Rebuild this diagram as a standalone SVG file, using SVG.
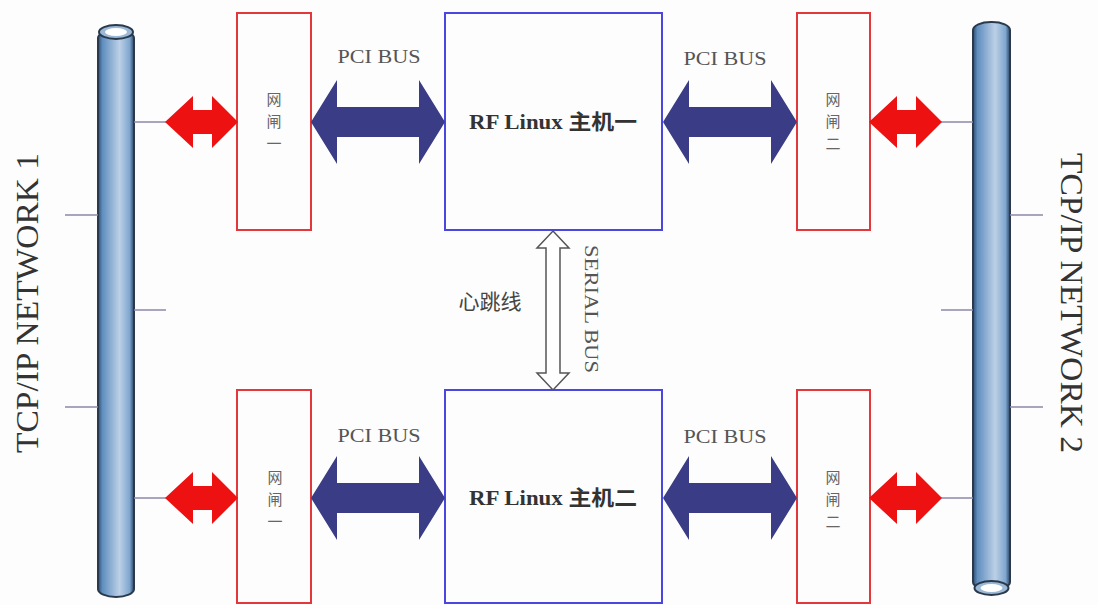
<svg xmlns="http://www.w3.org/2000/svg" width="1098" height="605" viewBox="0 0 1098 605">
<defs>
<linearGradient id="cyl" x1="0" y1="0" x2="1" y2="0">
<stop offset="0" stop-color="#2d4c70"/>
<stop offset="0.12" stop-color="#5f8ebf"/>
<stop offset="0.6" stop-color="#bcd0e6"/>
<stop offset="0.88" stop-color="#7ea6cf"/>
<stop offset="1" stop-color="#2d4563"/>
</linearGradient>
<polygon id="red" points="0,0 28,-26 28,-12 47,-12 47,-26 73,0 47,26 47,12 28,12 28,26" fill="#ee1111"/>
<polygon id="navy" points="0,0 26,-42 26,-15 108,-15 108,-42 134,0 108,42 108,15 26,15 26,42" fill="#3a3d85"/>
</defs>
<style>
.gw{fill:none;stroke:#e2383c;stroke-width:2}
.host{fill:none;stroke:#4a46e0;stroke-width:2}
.tick{stroke:#8a88a8;stroke-width:1.5}
.bus{font-family:"Liberation Serif",serif;font-size:19px;fill:#555;text-anchor:middle}
.gt{font-family:"Noto Sans CJK SC",sans-serif;font-size:15px;fill:#666;text-anchor:middle}
.ht{font-family:"Liberation Serif","Noto Sans CJK SC",serif;font-size:21px;font-weight:bold;fill:#333;text-anchor:middle}
.net{font-family:"Liberation Serif",serif;font-size:32px;fill:#333;text-anchor:middle}
</style>
<rect width="1098" height="605" fill="#fdfdfd"/>

<g id="network1">
<rect x="98" y="30" width="36" height="567" rx="18" ry="8" fill="url(#cyl)" stroke="#2a3a4c" stroke-width="2"/>
<ellipse cx="116" cy="32" rx="17" ry="7" fill="#9bb8d6" stroke="#2a3a4c" stroke-width="2"/>
<ellipse cx="116" cy="32" rx="11" ry="4" fill="#ffffff"/>
<text class="net" transform="translate(38,303) rotate(-90)" textLength="300" lengthAdjust="spacingAndGlyphs">TCP/IP NETWORK 1</text>
</g>
<g id="network2">
<rect x="973" y="22" width="37" height="568" rx="18" ry="8" fill="url(#cyl)" stroke="#2a3a4c" stroke-width="2"/>
<ellipse cx="991.5" cy="588" rx="17" ry="7" fill="#9bb8d6" stroke="#2a3a4c" stroke-width="2"/>
<ellipse cx="991.5" cy="588" rx="11" ry="4" fill="#ffffff"/>
<text class="net" transform="translate(1061,303) rotate(90)" textLength="300" lengthAdjust="spacingAndGlyphs">TCP/IP NETWORK 2</text>
</g>

<g id="gw1-top">
<rect class="gw" x="237" y="13" width="74" height="217"/>
<text class="gt" x="274" y="105">网</text>
<text class="gt" x="274" y="127">闸</text>
<text class="gt" x="274" y="149">一</text>
</g>
<g id="gw1-bottom">
<rect class="gw" x="237" y="390" width="74" height="213"/>
<text class="gt" x="275" y="483">网</text>
<text class="gt" x="275" y="505">闸</text>
<text class="gt" x="275" y="527">一</text>
</g>
<g id="gw2-top">
<rect class="gw" x="797" y="13" width="73" height="217"/>
<text class="gt" x="833" y="105">网</text>
<text class="gt" x="833" y="127">闸</text>
<text class="gt" x="833" y="149">二</text>
</g>
<g id="gw2-bottom">
<rect class="gw" x="797" y="390" width="73" height="213"/>
<text class="gt" x="833" y="483">网</text>
<text class="gt" x="833" y="505">闸</text>
<text class="gt" x="833" y="527">二</text>
</g>
<g id="host1">
<rect class="host" x="445" y="13" width="217" height="217"/>
<text class="ht" x="553" y="129" textLength="168" lengthAdjust="spacingAndGlyphs">RF Linux 主机一</text>
</g>
<g id="host2">
<rect class="host" x="445" y="390" width="217" height="213"/>
<text class="ht" x="553" y="505" textLength="168" lengthAdjust="spacingAndGlyphs">RF Linux 主机二</text>
</g>

<g id="connectors">
<line class="tick" x1="134" y1="122" x2="166" y2="122"/>
<line class="tick" x1="134" y1="498" x2="166" y2="498"/>
<line class="tick" x1="65" y1="215" x2="98" y2="215"/>
<line class="tick" x1="134" y1="310" x2="166" y2="310"/>
<line class="tick" x1="65" y1="407" x2="98" y2="407"/>
<line class="tick" x1="941" y1="122" x2="973" y2="122"/>
<line class="tick" x1="941" y1="498" x2="973" y2="498"/>
<line class="tick" x1="1010" y1="215" x2="1043" y2="215"/>
<line class="tick" x1="941" y1="310" x2="973" y2="310"/>
<line class="tick" x1="1010" y1="407" x2="1043" y2="407"/>
<use href="#red" x="165" y="122"/>
<use href="#red" x="165" y="498"/>
<use href="#red" x="869" y="122"/>
<use href="#red" x="869" y="498"/>
<use href="#navy" x="311" y="122"/>
<use href="#navy" x="311" y="498"/>
<use href="#navy" x="663" y="122"/>
<use href="#navy" x="663" y="498"/>
<polygon points="553,231 569,248 560,248 560,373 569,373 553,390 537,373 546,373 546,248 537,248" fill="#ffffff" stroke="#555" stroke-width="1.5"/>
<text class="bus" x="379" y="63" textLength="83" lengthAdjust="spacingAndGlyphs">PCI BUS</text>
<text class="bus" x="725" y="65" textLength="83" lengthAdjust="spacingAndGlyphs">PCI BUS</text>
<text class="bus" x="379" y="442" textLength="83" lengthAdjust="spacingAndGlyphs">PCI BUS</text>
<text class="bus" x="725" y="443" textLength="83" lengthAdjust="spacingAndGlyphs">PCI BUS</text>
<text class="bus" transform="translate(585,309) rotate(90)" textLength="128" lengthAdjust="spacingAndGlyphs">SERIAL BUS</text>
<text x="490" y="309" style="font-family:'Noto Sans CJK SC',sans-serif;font-size:21px;fill:#444;text-anchor:middle">心跳线</text>
</g>
</svg>
